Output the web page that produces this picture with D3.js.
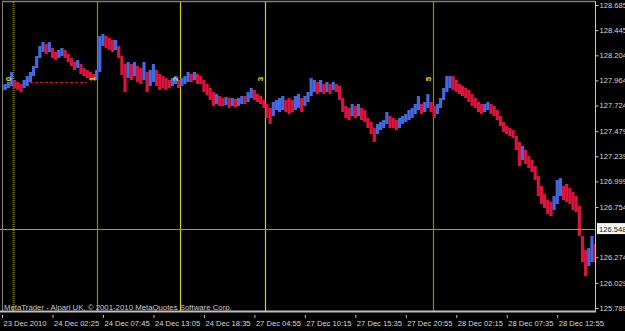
<!DOCTYPE html>
<html>
<head>
<meta charset="utf-8">
<script src="https://cdn.jsdelivr.net/npm/d3@7"></script>
<style>
  html, body { margin: 0; padding: 0; background: #000; }
  svg { display: block; }
</style>
</head>
<body>
<script>
// price bars (20 min buckets)
const highs = [
  127.911, 127.930, 127.949, 128.045, 127.968, 127.949, 127.930, 127.968, 128.006, 128.045,
  128.102, 128.198, 128.293, 128.331, 128.312, 128.331, 128.274, 128.236, 128.255, 128.274,
  128.255, 128.217, 128.179, 128.140, 128.159, 128.121, 128.083, 128.064, 128.045, 128.026,
  128.064, 128.389, 128.408, 128.389, 128.370, 128.351, 128.351, 128.293, 128.198, 128.121,
  128.140, 128.121, 128.140, 128.102, 128.083, 128.140, 128.045, 128.064, 128.121, 128.064,
  128.026, 128.006, 127.987, 127.968, 127.987, 128.006, 127.968, 127.987, 128.006, 128.045,
  128.026, 128.045, 128.026, 128.006, 127.968, 127.930, 127.892, 127.853, 127.834, 127.815,
  127.796, 127.806, 127.796, 127.796, 127.787, 127.796, 127.815, 127.815, 127.853, 127.892,
  127.873, 127.834, 127.815, 127.777, 127.739, 127.701, 127.758, 127.777, 127.796, 127.815,
  127.777, 127.796, 127.777, 127.815, 127.834, 127.796, 127.815, 127.853, 127.987, 127.968,
  127.949, 127.968, 127.930, 127.949, 127.930, 127.949, 127.930, 127.911, 127.796, 127.720,
  127.701, 127.739, 127.720, 127.739, 127.701, 127.681, 127.605, 127.567, 127.509, 127.548,
  127.567, 127.586, 127.662, 127.624, 127.605, 127.586, 127.605, 127.624, 127.643, 127.681,
  127.701, 127.739, 127.815, 127.739, 127.758, 127.834, 127.758, 127.720, 127.739, 127.796,
  127.892, 128.006, 128.006, 128.006, 127.968, 127.930, 127.911, 127.892, 127.873, 127.834,
  127.796, 127.758, 127.739, 127.739, 127.758, 127.739, 127.720, 127.681, 127.624, 127.567,
  127.528, 127.509, 127.490, 127.433, 127.375, 127.337, 127.299, 127.242, 127.203, 127.146,
  127.050, 126.955, 126.878, 126.821, 126.802, 126.859, 127.012, 127.031, 126.955, 126.974,
  126.936, 126.897, 126.859, 126.764, 126.477, 126.343, 126.362, 126.477, 126.400
];
const lows = [
  127.863, 127.873, 127.892, 127.911, 127.892, 127.873, 127.853, 127.892, 127.911, 127.949,
  128.006, 128.083, 128.179, 128.236, 128.217, 128.236, 128.179, 128.159, 128.179, 128.198,
  128.179, 128.140, 128.102, 128.064, 128.083, 128.026, 128.006, 127.987, 127.968, 127.968,
  127.968, 128.045, 128.293, 128.274, 128.255, 128.236, 128.255, 128.179, 128.016, 127.853,
  127.987, 127.968, 128.006, 127.949, 127.930, 127.968, 127.853, 127.911, 127.949, 127.911,
  127.873, 127.892, 127.873, 127.892, 127.911, 127.930, 127.892, 127.911, 127.930, 127.949,
  127.949, 127.968, 127.930, 127.930, 127.853, 127.825, 127.777, 127.720, 127.739, 127.720,
  127.720, 127.729, 127.701, 127.720, 127.710, 127.720, 127.739, 127.739, 127.758, 127.796,
  127.777, 127.758, 127.739, 127.701, 127.605, 127.548, 127.624, 127.681, 127.662, 127.681,
  127.662, 127.643, 127.662, 127.681, 127.701, 127.662, 127.720, 127.758, 127.815, 127.853,
  127.834, 127.853, 127.834, 127.853, 127.834, 127.873, 127.853, 127.777, 127.662, 127.605,
  127.586, 127.624, 127.605, 127.624, 127.586, 127.567, 127.509, 127.452, 127.375, 127.452,
  127.490, 127.509, 127.548, 127.509, 127.509, 127.490, 127.509, 127.548, 127.567, 127.586,
  127.605, 127.643, 127.681, 127.643, 127.662, 127.701, 127.662, 127.605, 127.643, 127.701,
  127.777, 127.853, 127.892, 127.873, 127.853, 127.834, 127.815, 127.796, 127.758, 127.720,
  127.701, 127.662, 127.643, 127.662, 127.681, 127.643, 127.624, 127.586, 127.528, 127.471,
  127.452, 127.433, 127.414, 127.299, 127.146, 127.203, 127.165, 127.127, 127.089, 127.012,
  126.859, 126.783, 126.745, 126.687, 126.668, 126.725, 126.783, 126.859, 126.821, 126.802,
  126.783, 126.725, 126.706, 126.477, 126.228, 126.094, 126.190, 126.228, 126.228
];

const priceTicks = [128.685, 128.445, 128.204, 127.964, 127.724, 127.479, 127.239, 126.999, 126.754, 126.274, 126.029, 125.789];
const timeLabels = ["23 Dec 2010", "24 Dec 02:25", "24 Dec 07:45", "24 Dec 13:05", "24 Dec 18:35", "27 Dec 04:55",
  "27 Dec 10:15", "27 Dec 15:35", "27 Dec 20:55", "28 Dec 02:15", "28 Dec 07:35", "28 Dec 12:55"];
const barsPerLabel = 16;
const bid = 126.548;

// vertical markers (bar index) and their numbers
const markerBars = [3.5, 30.1, 56.4, 83.4, 136.6];
const markerNames = ["0", "1", "2", "3", "5"];
const markerColors = ["#7c7c00", "#8c8c00", "#d0d000", "#d0d000", "#8c8c00"];
const markerLevel = 127.949;

const width = 625, height = 331;
const plot = {left: 2, top: 2, right: 595, bottom: 311};

const x = d3.scaleLinear().domain([0, highs.length - 1]).range([2, 595.1]);
const y = d3.scaleLinear().domain([125.789, 128.685]).range([308, 5]);

const svg = d3.select("body").append("svg")
  .attr("width", width)
  .attr("height", height)
  .attr("font-family", "Liberation Sans, Arial, sans-serif");

svg.append("rect").attr("width", width).attr("height", height).attr("fill", "#000");

svg.append("defs").append("clipPath").attr("id", "clip")
  .append("rect")
    .attr("x", plot.left).attr("y", plot.top)
    .attr("width", plot.right - plot.left).attr("height", plot.bottom - plot.top);

const g = svg.append("g").attr("clip-path", "url(#clip)");

// vertical separators
g.selectAll(".vline")
  .data(markerBars)
  .join("line")
    .attr("x1", d => Math.round(x(d)) + 0.5)
    .attr("x2", d => Math.round(x(d)) + 0.5)
    .attr("y1", plot.top)
    .attr("y2", plot.bottom)
    .attr("stroke", (d, i) => markerColors[i])
    .attr("stroke-width", (d, i) => i == 0 ? 2 : 1.2)
    .attr("stroke-dasharray", (d, i) => i == 0 ? "1,1" : null);

// dashed red level from marker 0 to marker 1
g.append("line")
  .attr("x1", x(markerBars[0]) + 12)
  .attr("x2", x(markerBars[1]) - 10)
  .attr("y1", Math.round(y(markerLevel)) + 0.5)
  .attr("y2", Math.round(y(markerLevel)) + 0.5)
  .attr("stroke", "#e01010")
  .attr("stroke-dasharray", "3,2");

// bars
g.selectAll(".bar")
  .data(highs)
  .join("line")
    .attr("x1", (d, i) => x(i))
    .attr("x2", (d, i) => x(i))
    .attr("y1", d => y(d))
    .attr("y2", (d, i) => y(lows[i]))
    .attr("stroke-width", 3.2)
    .attr("stroke", (d, i) => {
      if (i == 0) return "#dc143c";
      const mid = (d + lows[i]) / 2, prev = (highs[i - 1] + lows[i - 1]) / 2;
      return mid > prev ? "#4169e1" : "#dc143c";
    });

// marker numbers (rotated)
svg.selectAll(".mlabel")
  .data(markerBars)
  .join("text")
    .attr("transform", d => `translate(${Math.round(x(d)) - 2},${y(markerLevel) - 3}) rotate(-90)`)
    .attr("fill", "#e0e000")
    .attr("font-size", 8)
    .attr("font-weight", "bold")
    .attr("text-anchor", "middle")
    .text((d, i) => markerNames[i]);

// bid line
svg.append("line")
  .attr("x1", 0).attr("x2", plot.right)
  .attr("y1", Math.round(y(bid)) + 0.5).attr("y2", Math.round(y(bid)) + 0.5)
  .attr("stroke", "#8494a4");

// frame
svg.append("line").attr("x1", plot.left).attr("x2", plot.right).attr("y1", 1.5).attr("y2", 1.5)
  .attr("stroke", "#808080").attr("stroke-width", 1.5);
svg.append("line").attr("x1", 2.5).attr("x2", 2.5).attr("y1", 1).attr("y2", plot.bottom)
  .attr("stroke", "#808080");

// copyright
svg.append("text")
  .attr("x", 4).attr("y", 310)
  .attr("fill", "#c8c8c8")
  .attr("font-size", 7.8)
  .text("MetaTrader - Alpari UK, \u00a9 2001-2010 MetaQuotes Software Corp.");

// price axis
const yAxis = g2 => g2
  .attr("transform", `translate(${plot.right + 0.5},0)`)
  .call(d3.axisRight(y).tickValues(priceTicks).tickSize(3).tickPadding(1).tickFormat(d3.format(".3f")))
  .call(g2 => g2.select(".domain").attr("stroke", "#c8c8c8").attr("d", `M0,1V${plot.bottom}`))
  .call(g2 => g2.selectAll(".tick line").attr("stroke", "#c8c8c8"))
  .call(g2 => g2.selectAll("text").attr("fill", "#d8d8d8").attr("font-size", 7.6).attr("font-family", null));

svg.append("g").call(yAxis);

// bid label
svg.append("rect")
  .attr("x", plot.right + 2).attr("y", y(bid) - 5.5)
  .attr("width", 30).attr("height", 11)
  .attr("fill", "#f4f4f4");
svg.append("text")
  .attr("x", plot.right + 4).attr("y", y(bid) + 3)
  .attr("fill", "#202020")
  .attr("font-size", 7.6)
  .text(d3.format(".3f")(bid));

// time axis
svg.append("line").attr("x1", 0).attr("x2", plot.right + 1)
  .attr("y1", plot.bottom + 0.5).attr("y2", plot.bottom + 0.5)
  .attr("stroke", "#c0c0c0").attr("stroke-width", 2);

const tickIdx = timeLabels.map((d, i) => i * barsPerLabel);
const xAxis = g2 => g2
  .attr("transform", `translate(0,${plot.bottom + 4})`)
  .call(d3.axisBottom(x).tickValues(tickIdx).tickSize(3).tickPadding(3).tickFormat((d, i) => timeLabels[i]))
  .call(g2 => g2.select(".domain").remove())
  .call(g2 => g2.selectAll(".tick line").attr("stroke", "#c0c0c0"))
  .call(g2 => g2.selectAll("text").attr("fill", "#d8d8d8").attr("font-size", 7.6)
    .attr("font-family", null).attr("text-anchor", "start").attr("x", 1));

svg.append("g").call(xAxis);
</script>
</body>
</html>
